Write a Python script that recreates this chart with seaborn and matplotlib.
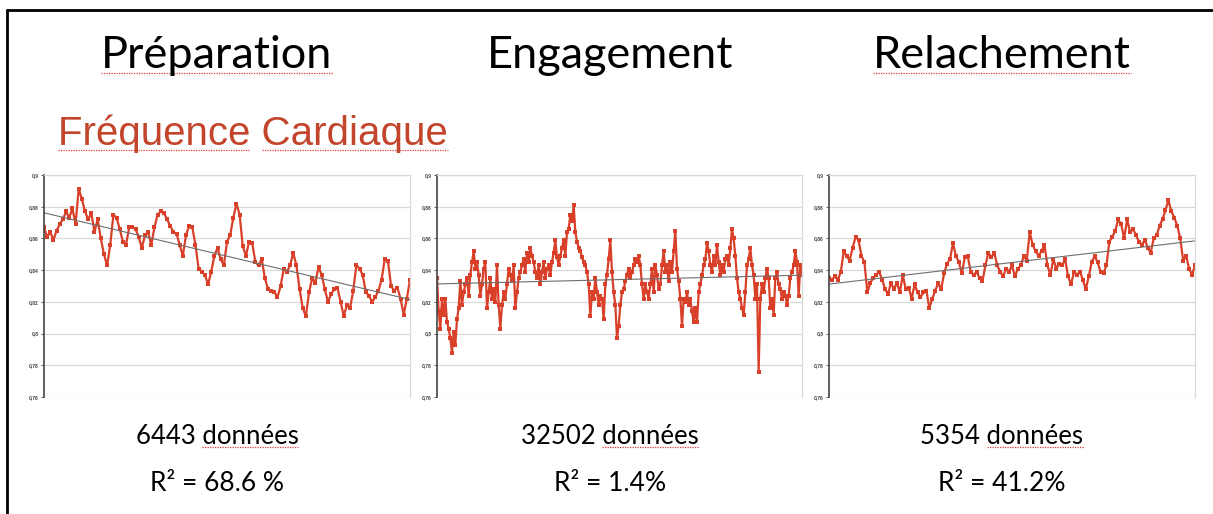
import numpy as np
import matplotlib
matplotlib.use("Agg")
import matplotlib.pyplot as plt
from matplotlib.lines import Line2D
from matplotlib.transforms import IdentityTransform
import seaborn as sns

# ---- data -----------------------------------------------------------------
phases = ["Préparation", "Engagement", "Relachement"]
counts = ["6443 données", "32502 données", "5354 données"]
r2_labels = ["R² = 68.6 %", "R² = 1.4%", "R² = 41.2%"]
y_ticks = [0.76, 0.78, 0.80, 0.82, 0.84, 0.86, 0.88, 0.90]
y_tick_labels = ["0,76", "0,78", "0,8", "0,82", "0,84", "0,86", "0,88", "0,9"]

fc_preparation = [
    0.867, 0.861, 0.864, 0.859, 0.865, 0.869, 0.872, 0.877, 0.873, 0.879,
    0.869, 0.891, 0.885, 0.877, 0.872, 0.876, 0.864, 0.872, 0.860, 0.850,
    0.843, 0.856, 0.875, 0.873, 0.866, 0.858, 0.856, 0.867, 0.867, 0.866,
    0.861, 0.854, 0.862, 0.864, 0.856, 0.867, 0.875, 0.877, 0.876, 0.872,
    0.868, 0.864, 0.863, 0.856, 0.849, 0.862, 0.868, 0.867, 0.856, 0.841,
    0.839, 0.837, 0.831, 0.839, 0.849, 0.854, 0.847, 0.843, 0.858, 0.862,
    0.873, 0.882, 0.875, 0.855, 0.849, 0.858, 0.857, 0.845, 0.843, 0.847,
    0.835, 0.828, 0.827, 0.826, 0.823, 0.830, 0.841, 0.839, 0.843, 0.851,
    0.843, 0.828, 0.816, 0.811, 0.826, 0.835, 0.832, 0.842, 0.837, 0.828,
    0.820, 0.825, 0.828, 0.829, 0.820, 0.811, 0.818, 0.816, 0.827, 0.843,
    0.841, 0.837, 0.826, 0.824, 0.820, 0.823, 0.827, 0.834, 0.847, 0.846,
    0.830, 0.827, 0.829, 0.822, 0.812, 0.822, 0.834,
]

fc_engagement = [
    0.835, 0.814, 0.803, 0.822, 0.812, 0.822, 0.807, 0.803, 0.797, 0.788,
    0.801, 0.793, 0.809, 0.816, 0.833, 0.818, 0.826, 0.831, 0.835, 0.824,
    0.837, 0.845, 0.852, 0.841, 0.845, 0.837, 0.824, 0.831, 0.841, 0.845,
    0.816, 0.826, 0.835, 0.822, 0.828, 0.820, 0.843, 0.818, 0.803, 0.818,
    0.826, 0.822, 0.831, 0.841, 0.837, 0.833, 0.843, 0.816, 0.826, 0.835,
    0.839, 0.843, 0.847, 0.839, 0.851, 0.845, 0.854, 0.849, 0.845, 0.839,
    0.835, 0.843, 0.831, 0.839, 0.845, 0.835, 0.841, 0.843, 0.837, 0.845,
    0.851, 0.859, 0.848, 0.843, 0.849, 0.854, 0.859, 0.849, 0.864, 0.866,
    0.875, 0.871, 0.881, 0.864, 0.858, 0.854, 0.852, 0.848, 0.845, 0.843,
    0.839, 0.831, 0.811, 0.826, 0.822, 0.835, 0.826, 0.818, 0.824, 0.822,
    0.809, 0.831, 0.837, 0.847, 0.859, 0.839, 0.826, 0.818, 0.797, 0.805,
    0.818, 0.826, 0.828, 0.833, 0.837, 0.841, 0.835, 0.839, 0.843, 0.847,
    0.845, 0.849, 0.843, 0.831, 0.822, 0.831, 0.826, 0.822, 0.831, 0.841,
    0.826, 0.843, 0.837, 0.828, 0.831, 0.843, 0.852, 0.839, 0.843, 0.833,
    0.845, 0.839, 0.852, 0.865, 0.841, 0.833, 0.822, 0.805, 0.822, 0.820,
    0.826, 0.818, 0.822, 0.814, 0.807, 0.816, 0.807, 0.826, 0.831, 0.837,
    0.843, 0.847, 0.857, 0.852, 0.843, 0.839, 0.849, 0.843, 0.856, 0.845,
    0.837, 0.843, 0.839, 0.847, 0.849, 0.843, 0.854, 0.866, 0.860, 0.849,
    0.835, 0.826, 0.822, 0.816, 0.812, 0.826, 0.843, 0.847, 0.854, 0.843,
    0.837, 0.822, 0.831, 0.776, 0.822, 0.831, 0.826, 0.835, 0.841, 0.835,
    0.816, 0.822, 0.812, 0.835, 0.839, 0.831, 0.828, 0.822, 0.826, 0.824,
    0.818, 0.824, 0.835, 0.839, 0.843, 0.852, 0.845, 0.824, 0.843, 0.837,
]

fc_relachement = [
    0.835, 0.834, 0.836, 0.834, 0.839, 0.852, 0.849, 0.846, 0.854, 0.861,
    0.859, 0.849, 0.845, 0.826, 0.832, 0.835, 0.837, 0.839, 0.834, 0.828,
    0.825, 0.832, 0.828, 0.832, 0.826, 0.837, 0.828, 0.829, 0.822, 0.831,
    0.826, 0.823, 0.826, 0.827, 0.816, 0.822, 0.827, 0.832, 0.828, 0.838,
    0.844, 0.847, 0.857, 0.849, 0.845, 0.838, 0.848, 0.849, 0.839, 0.837,
    0.839, 0.835, 0.833, 0.843, 0.851, 0.848, 0.851, 0.843, 0.839, 0.836,
    0.841, 0.839, 0.843, 0.836, 0.841, 0.843, 0.849, 0.846, 0.864, 0.856,
    0.852, 0.849, 0.852, 0.856, 0.843, 0.837, 0.847, 0.841, 0.844, 0.843,
    0.847, 0.836, 0.831, 0.839, 0.837, 0.839, 0.834, 0.828, 0.836, 0.845,
    0.849, 0.845, 0.839, 0.838, 0.843, 0.858, 0.861, 0.865, 0.872, 0.869,
    0.860, 0.872, 0.864, 0.866, 0.862, 0.858, 0.856, 0.859, 0.854, 0.851,
    0.860, 0.862, 0.868, 0.872, 0.878, 0.884, 0.877, 0.873, 0.868, 0.860,
    0.846, 0.849, 0.841, 0.837, 0.843,
]

series = [fc_preparation, fc_engagement, fc_relachement]

# ---- styling --------------------------------------------------------------
sns.set_theme(style="white")
plt.rcParams["font.family"] = ["Lato", "DejaVu Sans"]

W, H = 1213, 514
fig = plt.figure(figsize=(W / 100, H / 100), dpi=100)
fig.patch.set_facecolor("white")

line_red = "#d8402a"
grid_grey = "#d9d9d9"

axes_px = [(44, 410), (437, 802), (829, 1195)]
top_px, bottom_px = 175, 397

for (x0, x1), values in zip(axes_px, series):
    ax = fig.add_axes([x0 / W, 1 - bottom_px / H, (x1 - x0) / W,
                       (bottom_px - top_px) / H])
    x = np.arange(len(values))
    sns.lineplot(x=x, y=values, ax=ax, color=line_red, lw=1.6,
                 marker="s", markersize=2.4, markeredgewidth=0)
    sns.regplot(x=x, y=np.asarray(values), ax=ax, scatter=False, ci=None,
                truncate=True, line_kws=dict(color="#6e6e6e", lw=0.8))
    ax.set_xlim(0, len(values) - 1)
    ax.set_ylim(0.76, 0.90)
    ax.set_yticks(y_ticks)
    ax.set_yticklabels(y_tick_labels, fontsize=3.6, fontweight="bold",
                       color="#444444", family=["Liberation Sans"])
    ax.set_xticks([])
    ax.set_xlabel("")
    ax.set_ylabel("")
    ax.yaxis.grid(True, color=grid_grey, lw=0.9)
    ax.set_axisbelow(True)
    ax.tick_params(axis="y", left=True, length=2.2, width=0.6,
                   color="#444444", pad=1.5)
    ax.spines["left"].set_color("#444444")
    ax.spines["left"].set_linewidth(1.2)
    for side in ("top", "right"):
        ax.spines[side].set_color(grid_grey)
        ax.spines[side].set_linewidth(0.9)
    ax.spines["bottom"].set_visible(False)

# ---- slide frame ----------------------------------------------------------
fig.add_artist(Line2D([7, W], [H - 10, H - 10], color="black", lw=2.0,
                      transform=IdentityTransform()))
fig.add_artist(Line2D([7, 7], [H - 10, 0], color="black", lw=2.0,
                      transform=IdentityTransform()))

# ---- texts ----------------------------------------------------------------
title_x = [217, 610, 1002]
titles = []
for cx, t in zip(title_x, phases):
    titles.append(fig.text(cx / W, 1 - 68 / H, t, ha="center", va="baseline",
                           fontsize=32.5, color="black"))

subtitle = fig.text(58 / W, 1 - 145 / H, "Fréquence Cardiaque", ha="left",
                    va="baseline", fontsize=29, color="#c2452b",
                    family=["Liberation Sans"])

count_texts = []
for cx, c, r in zip(title_x, counts, r2_labels):
    count_texts.append(fig.text(cx / W, 1 - 444 / H, c, ha="center",
                                va="baseline", fontsize=18.5, color="black"))
    fig.text(cx / W, 1 - 491 / H, r, ha="center", va="baseline",
             fontsize=19, color="black")

# spell-check style dotted underlines
fig.canvas.draw()
renderer = fig.canvas.get_renderer()


def word_width(txt, word):
    tmp = fig.text(0, 0, word, fontproperties=txt.get_fontproperties())
    w = tmp.get_window_extent(renderer).width
    tmp.remove()
    return w


def squiggle(txt, word, at_end, drop=5):
    bb = txt.get_window_extent(renderer)
    ww = word_width(txt, word)
    if at_end:
        xa, xb = bb.x1 - ww, bb.x1
    else:
        xa, xb = bb.x0, bb.x0 + ww
    _, base_y = fig.transFigure.transform(txt.get_position())
    y = base_y - drop
    fig.add_artist(Line2D([xa, xb], [y, y], color="#e23b3b", lw=0.9,
                          linestyle=(0, (1, 1)),
                          transform=IdentityTransform()))


squiggle(titles[0], "Préparation", False)
squiggle(titles[2], "Relachement", False)
squiggle(subtitle, "Fréquence", False)
squiggle(subtitle, "Cardiaque", True)
for t in count_texts:
    squiggle(t, "données", True, drop=3)

fig.savefig("out.png", dpi=100, facecolor="white")
